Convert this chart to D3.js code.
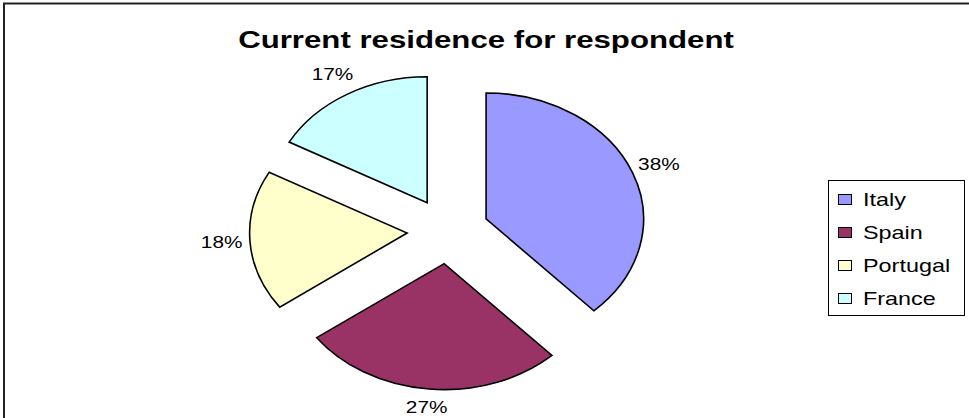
<!DOCTYPE html>
<html>
<head>
<meta charset="utf-8">
<script src="https://cdn.jsdelivr.net/npm/d3@7"></script>
<style>
  html, body { margin: 0; padding: 0; background: #fff; }
  svg { display: block; font-family: "Liberation Sans", Arial, sans-serif; }
</style>
</head>
<body>
<svg id="chart" width="969" height="418"></svg>
<script>
// ---- data ----
const categories = ["Italy", "Spain", "Portugal", "France"];
const values = [38, 27, 18, 17];
const valueLabels = ["38%", "27%", "18%", "17%"];
const sliceColors = ["#9999FF", "#993366", "#FFFFCC", "#CCFFFF"];
const chartTitle = "Current residence for respondent";

// ---- layout ----
const W = 969, H = 418;
const SX = 1.25;           // horizontal stretch of the picture
const TX = 1.3;            // horizontal stretch of text
const cx = 448, cy = 231;  // pie centre
const RY = 126;            // vertical radius
const explode = 0.26 * RY;

const svg = d3.select("#chart");

// outer border (top & left visible)
svg.append("path")
  .attr("d", `M4,${H} V3.5 H${W}`)
  .attr("fill", "none")
  .attr("stroke", "#222")
  .attr("stroke-width", 2);

// title
svg.append("text")
  .attr("transform", `translate(486,48) scale(${TX},1)`)
  .attr("text-anchor", "middle")
  .attr("font-size", 24)
  .attr("font-weight", "bold")
  .attr("fill", "#000")
  .text(chartTitle);

// pie
const data = categories.map((c, i) => ({ cat: c, value: values[i], label: valueLabels[i], color: sliceColors[i] }));
const pie = d3.pie().sort(null).value(d => d.value);
const arcs = pie(data);
const arc = d3.arc().innerRadius(0).outerRadius(RY);

const slices = svg.append("g");
const labelsG = svg.append("g");
arcs.forEach(a => {
  const mid = (a.startAngle + a.endAngle) / 2;
  const dx = Math.sin(mid), dy = -Math.cos(mid);
  const ox = cx + dx * explode * SX, oy = cy + dy * explode;
  slices.append("path")
    .attr("transform", `translate(${ox},${oy}) scale(${SX},1)`)
    .attr("d", arc(a))
    .attr("fill", a.data.color)
    .attr("stroke", "#000")
    .attr("stroke-width", 1.6)
    .attr("stroke-linejoin", "miter")
    .attr("vector-effect", "non-scaling-stroke");

  const lr = RY * 1.18;
  const lx = ox + dx * lr * SX;
  const ly = Math.min(oy + dy * lr, H - 11);
  labelsG.append("text")
    .attr("transform", `translate(${lx},${ly}) scale(${TX},1)`)
    .attr("text-anchor", "middle")
    .attr("dominant-baseline", "central")
    .attr("font-size", 16)
    .attr("fill", "#000")
    .text(a.data.label);
});

// legend
const lg = svg.append("g");
lg.append("rect")
  .attr("x", 828.5).attr("y", 180.5)
  .attr("width", 136).attr("height", 135)
  .attr("fill", "#fff")
  .attr("stroke", "#000")
  .attr("stroke-width", 1);

const lyScale = d3.scaleBand().domain(categories).range([183, 315]);
categories.forEach((c, i) => {
  const yc = lyScale(c) + lyScale.bandwidth() / 2;
  lg.append("rect")
    .attr("x", 838.5).attr("y", yc - 5)
    .attr("width", 13).attr("height", 10)
    .attr("fill", sliceColors[i])
    .attr("stroke", "#000")
    .attr("stroke-width", 1);
  lg.append("text")
    .attr("transform", `translate(863,${yc}) scale(${TX},1)`)
    .attr("dominant-baseline", "central")
    .attr("font-size", 18)
    .attr("fill", "#000")
    .text(c);
});
</script>
</body>
</html>
